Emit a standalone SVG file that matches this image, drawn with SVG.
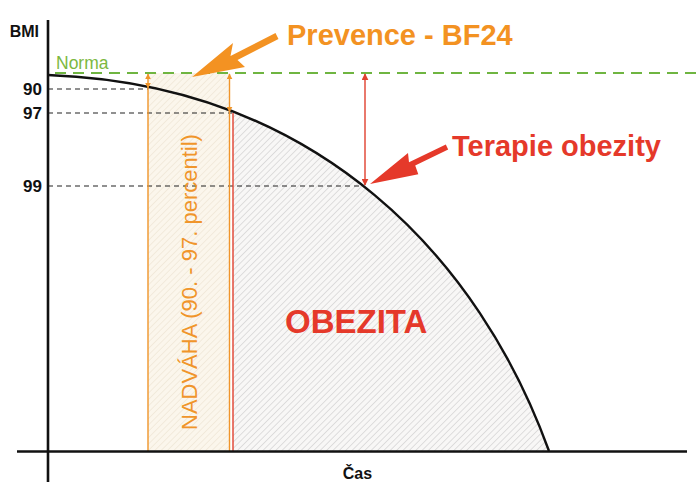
<svg xmlns="http://www.w3.org/2000/svg" width="696" height="494" viewBox="0 0 696 494">
<style>
.ax{stroke:#111;stroke-width:2.6;fill:none}
.dash{stroke:#222;stroke-width:1.2;stroke-dasharray:5 4;fill:none}
.lbl{font-family:"Liberation Sans",Arial,sans-serif;font-weight:bold;fill:#111}
.or{stroke:#f0952a;stroke-width:1.4;fill:none}
.rd{stroke:#e0402e;stroke-width:1.4;fill:none}
</style>
<defs>
<pattern id="hatchG" width="4.5" height="4.5" patternUnits="userSpaceOnUse" patternTransform="rotate(45)">
<rect width="4.5" height="4.5" fill="#f8f7f6"/>
<line x1="0" y1="0" x2="0" y2="4.5" stroke="#c4c4c4" stroke-width="1"/>
</pattern>
<pattern id="hatchB" width="4.5" height="4.5" patternUnits="userSpaceOnUse" patternTransform="rotate(45)">
<rect width="4.5" height="4.5" fill="#fbf6ec"/>
<line x1="0" y1="0" x2="0" y2="4.5" stroke="#eadfcc" stroke-width="1"/>
</pattern>
<clipPath id="under">
<path d="M48,75 C320,85 480,260 549,451 L48,451 Z"/>
</clipPath>
<marker id="ao" viewBox="0 0 10 10" refX="9" refY="5" markerWidth="6" markerHeight="6" orient="auto-start-reverse" markerUnits="userSpaceOnUse">
<path d="M0,0 L10,5 L0,10 Z" fill="#f0952a"/>
</marker>
<marker id="ar" viewBox="0 0 10 10" refX="9" refY="5" markerWidth="7" markerHeight="7" orient="auto-start-reverse" markerUnits="userSpaceOnUse">
<path d="M0,0 L10,5 L0,10 Z" fill="#e0402e"/>
</marker>
</defs>

<g id="regions">
<rect id="obezita-area" x="233" y="100" width="320" height="351" fill="url(#hatchG)" clip-path="url(#under)"/>
<rect id="nadvaha-area" x="148" y="73" width="82" height="378" fill="url(#hatchB)"/>
</g>

<g id="guides">
<line class="dash" x1="48" y1="89" x2="148" y2="89"/>
<line class="dash" x1="48" y1="113" x2="232" y2="113"/>
<line class="dash" x1="48" y1="186" x2="364" y2="186"/>
<line x1="55" y1="73" x2="696" y2="73" stroke="#6fb541" stroke-width="2" stroke-dasharray="11 7"/>
<line class="or" x1="148" y1="88" x2="148" y2="451"/>
<line class="or" x1="229.5" y1="112" x2="229.5" y2="451"/>
<line class="rd" x1="233" y1="113" x2="233" y2="451" stroke-width="1.2"/>
</g>

<g id="curve">
<path d="M48,75 C320,85 480,260 549,451" fill="none" stroke="#111" stroke-width="2.4"/>
</g>

<g id="axes">
<line class="ax" x1="48" y1="20" x2="48" y2="482"/>
<line class="ax" x1="17" y1="451.5" x2="687" y2="451.5"/>
</g>

<g id="connectors">
<line class="or" x1="148" y1="74" x2="148" y2="88" marker-start="url(#ao)" marker-end="url(#ao)"/>
<line class="or" x1="229.5" y1="74" x2="229.5" y2="112" marker-start="url(#ao)" marker-end="url(#ao)"/>
<line class="rd" x1="365" y1="74" x2="365" y2="185" marker-start="url(#ar)" marker-end="url(#ar)"/>
<polygon id="arrow-prevence" points="192,77 233,43 230.5,56 275.5,33 278.5,39 237.5,60 245,67" fill="#f39222"/>
<polygon id="arrow-terapie" points="370,184 408,153 409,162.3 445.8,144.5 448.2,149.5 415.2,165.5 418.3,174.3" fill="#e5392a"/>
</g>

<g id="labels">
<text class="lbl" x="39" y="37" font-size="16" text-anchor="end">BMI</text>
<text x="56" y="69" font-family="Liberation Sans, Arial, sans-serif" font-size="17.5" fill="#7cb83f">Norma</text>
<text class="lbl" x="42" y="95" font-size="17" text-anchor="end">90</text>
<text class="lbl" x="42" y="119" font-size="17" text-anchor="end">97</text>
<text class="lbl" x="42" y="192" font-size="17" text-anchor="end">99</text>
<text class="lbl" x="357.5" y="479" font-size="16" text-anchor="middle">Čas</text>
<text x="287" y="45" font-family="Liberation Sans, Arial, sans-serif" font-weight="bold" font-size="29" fill="#f39222">Prevence - BF24</text>
<text x="452" y="156" font-family="Liberation Sans, Arial, sans-serif" font-weight="bold" font-size="29" fill="#e5392a">Terapie obezity</text>
<text x="285" y="333" font-family="Liberation Sans, Arial, sans-serif" font-weight="bold" font-size="33" fill="#e5392a">OBEZITA</text>
<text x="197" y="430" transform="rotate(-90 197 430)" font-family="Liberation Sans, Arial, sans-serif" font-size="22" fill="#f0952a">NADVÁHA (90. - 97. percentil)</text>
</g>
</svg>
